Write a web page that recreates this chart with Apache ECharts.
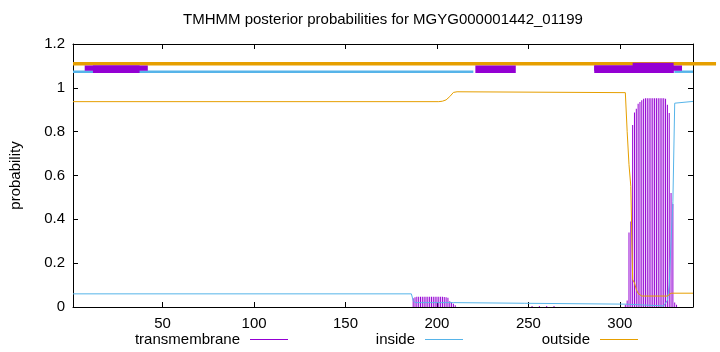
<!DOCTYPE html>
<html><head><meta charset="utf-8">
<script src="https://cdn.jsdelivr.net/npm/echarts@6/dist/echarts.min.js"></script>
<style>html,body{margin:0;padding:0;background:#fff}#c{width:720px;height:352px}</style>
</head><body><div id="c"></div>
<script>
const chartTitle = 'TMHMM posterior probabilities for MGYG000001442_01199';
const xTicks = [50, 100, 150, 200, 250, 300];
const seriesNames = ['transmembrane', 'inside', 'outside'];

// transmembrane posterior (impulses), per residue
const tmResidues = [187,188,189,190,191,192,193,194,195,196,197,198,199,200,201,202,203,204,205,206,207,208,209,210,
  252,256,260,264,
  303,304,305,306,307,308,309,310,311,312,313,314,315,316,317,318,319,320,321,322,323,324,325,326,327,328,329,330,331];
const tmProb = [0.040,0.045,0.047,0.047,0.047,0.047,0.047,0.047,0.047,0.047,0.047,0.047,0.047,0.047,0.047,0.047,0.047,0.046,0.045,0.042,0.026,0.022,0.015,0.008,
  0.004,0.004,0.004,0.004,
  0.010,0.030,0.340,0.390,0.830,0.888,0.905,0.927,0.935,0.943,0.950,0.952,0.953,0.953,0.953,0.953,0.953,0.953,0.953,0.953,0.953,0.953,0.950,0.923,0.885,0.520,0.470,0.020,0.010];

// inside posterior (line breakpoints)
const insideX = [1,186,187,188,209,210,248,249,303,304,324,325,326,327,328,329,330,331,340];
const insideY = [0.060,0.060,0.030,0.020,0.020,0.017,0.017,0.013,0.013,0.005,0.005,0.010,0.030,0.100,0.300,0.480,0.930,0.938,0.938];

// outside posterior (line breakpoints)
const outsideX = [1,201,203,205,207,209,211,303,304,305,306,307,308,309,310,311,312,326,327,328,340];
const outsideY = [0.937,0.937,0.939,0.945,0.960,0.979,0.982,0.978,0.800,0.650,0.550,0.125,0.110,0.080,0.062,0.053,0.050,0.050,0.052,0.063,0.063];

// predicted topology strip (residue ranges)
const stripOutside = [[1, 352.6]];
const stripInside = [[1, 219.9], [329.8, 340]];
const stripTMUpper = [[7.4, 41.9], [286, 334]];
const stripTMFull = [[11.9, 37.4], [221, 243.1], [286, 329.4]];
const stripTMRaised = [[307, 329.4]];

const FONT = 'Liberation Sans, Arial, Helvetica, sans-serif';
const C_TM = '#9400d3', C_IN = '#56b4e9', C_OUT = '#e69f00';
const seriesColors = [C_TM, C_IN, C_OUT];

function zipXY(xs, ys) { return xs.map((x, i) => [x, ys[i]]); }

function rectSeries(segs, y0, y1, color, z) {
  return {
    type: 'custom', silent: true, clip: false, z: z,
    xAxisIndex: 0, yAxisIndex: 0,
    data: segs.map(s => [s[0], s[1]]),
    encode: { x: [0, 1] },
    renderItem: function (params, api) {
      const a = api.coord([api.value(0), y1]);
      const b = api.coord([api.value(1), y0]);
      return { type: 'rect', shape: { x: a[0], y: a[1], width: b[0] - a[0], height: b[1] - a[1] }, style: { fill: color } };
    }
  };
}

function legendFor(i, right) {
  return {
    data: [{ name: seriesNames[i], icon: 'rect', itemStyle: { color: seriesColors[i], borderWidth: 0 }, lineStyle: { color: seriesColors[i] } }],
    right: right, top: 332, orient: 'horizontal', align: 'right', itemWidth: 38, itemHeight: 1,
    selectedMode: false, padding: 0,
    textStyle: { fontSize: 15, fontFamily: FONT, color: '#000', padding: [0, 5, 0, 0] }
  };
}

const chart = echarts.init(document.getElementById('c'), null, { renderer: 'canvas' });
const axisCommon = {
  type: 'value', min: 1, max: 340,
  axisLine: { show: true, onZero: false, lineStyle: { color: '#000', width: 1 } },
  splitLine: { show: false }
};
chart.setOption({
  animation: false,
  backgroundColor: '#fff',
  color: seriesColors,
  title: { text: chartTitle, left: 383, textAlign: 'center', top: 12, padding: 0,
    textStyle: { fontSize: 15, fontWeight: 'normal', fontFamily: FONT, color: '#000' } },
  grid: { left: 73, right: 27, top: 44, bottom: 45, containLabel: false },
  legend: [legendFor(0, 432), legendFor(1, 257), legendFor(2, 82)],
  xAxis: [
    Object.assign({}, axisCommon, {
      position: 'bottom',
      axisTick: { show: true, inside: true, length: 5, customValues: xTicks, lineStyle: { color: '#000' } },
      axisLabel: { show: true, customValues: xTicks, margin: 9, fontSize: 15, fontFamily: FONT, color: '#000' }
    }),
    Object.assign({}, axisCommon, {
      position: 'top',
      axisTick: { show: true, inside: true, length: 5, customValues: xTicks, lineStyle: { color: '#000' } },
      axisLabel: { show: false }
    })
  ],
  yAxis: [
    {
      type: 'value', min: 0, max: 1.2, interval: 0.2, position: 'left',
      name: 'probability', nameLocation: 'middle', nameGap: 50, nameRotate: 90,
      nameTextStyle: { fontSize: 15, fontFamily: FONT, color: '#000' },
      axisLine: { show: true, onZero: false, lineStyle: { color: '#000', width: 1 } },
      axisTick: { show: true, inside: true, length: 5, lineStyle: { color: '#000' } },
      axisLabel: { margin: 8, fontSize: 15, fontFamily: FONT, color: '#000' },
      splitLine: { show: false }
    },
    {
      type: 'value', min: 0, max: 1.2, interval: 0.2, position: 'right',
      axisLine: { show: true, onZero: false, lineStyle: { color: '#000', width: 1 } },
      axisTick: { show: true, inside: true, length: 5, lineStyle: { color: '#000' } },
      axisLabel: { show: false },
      splitLine: { show: false }
    }
  ],
  series: [
    {
      name: seriesNames[0], type: 'bar', xAxisIndex: 0, yAxisIndex: 0,
      barWidth: 1, itemStyle: { color: C_TM }, large: false,
      data: zipXY(tmResidues, tmProb), z: 2
    },
    {
      name: seriesNames[1], type: 'line', xAxisIndex: 0, yAxisIndex: 0,
      showSymbol: false, symbol: 'none', lineStyle: { color: C_IN, width: 1 }, itemStyle: { color: C_IN },
      data: zipXY(insideX, insideY), z: 3
    },
    {
      name: seriesNames[2], type: 'line', xAxisIndex: 0, yAxisIndex: 0,
      showSymbol: false, symbol: 'none', lineStyle: { color: C_OUT, width: 1 }, itemStyle: { color: C_OUT },
      data: zipXY(outsideX, outsideY), z: 4
    },
    rectSeries(stripOutside, 1.102, 1.118, C_OUT, 5),
    rectSeries(stripInside, 1.068, 1.079, C_IN, 6),
    rectSeries(stripTMUpper, 1.078, 1.102, C_TM, 7),
    rectSeries(stripTMFull, 1.068, 1.102, C_TM, 8),
    rectSeries(stripTMRaised, 1.068, 1.114, C_TM, 9)
  ]
});
</script>
</body></html>
